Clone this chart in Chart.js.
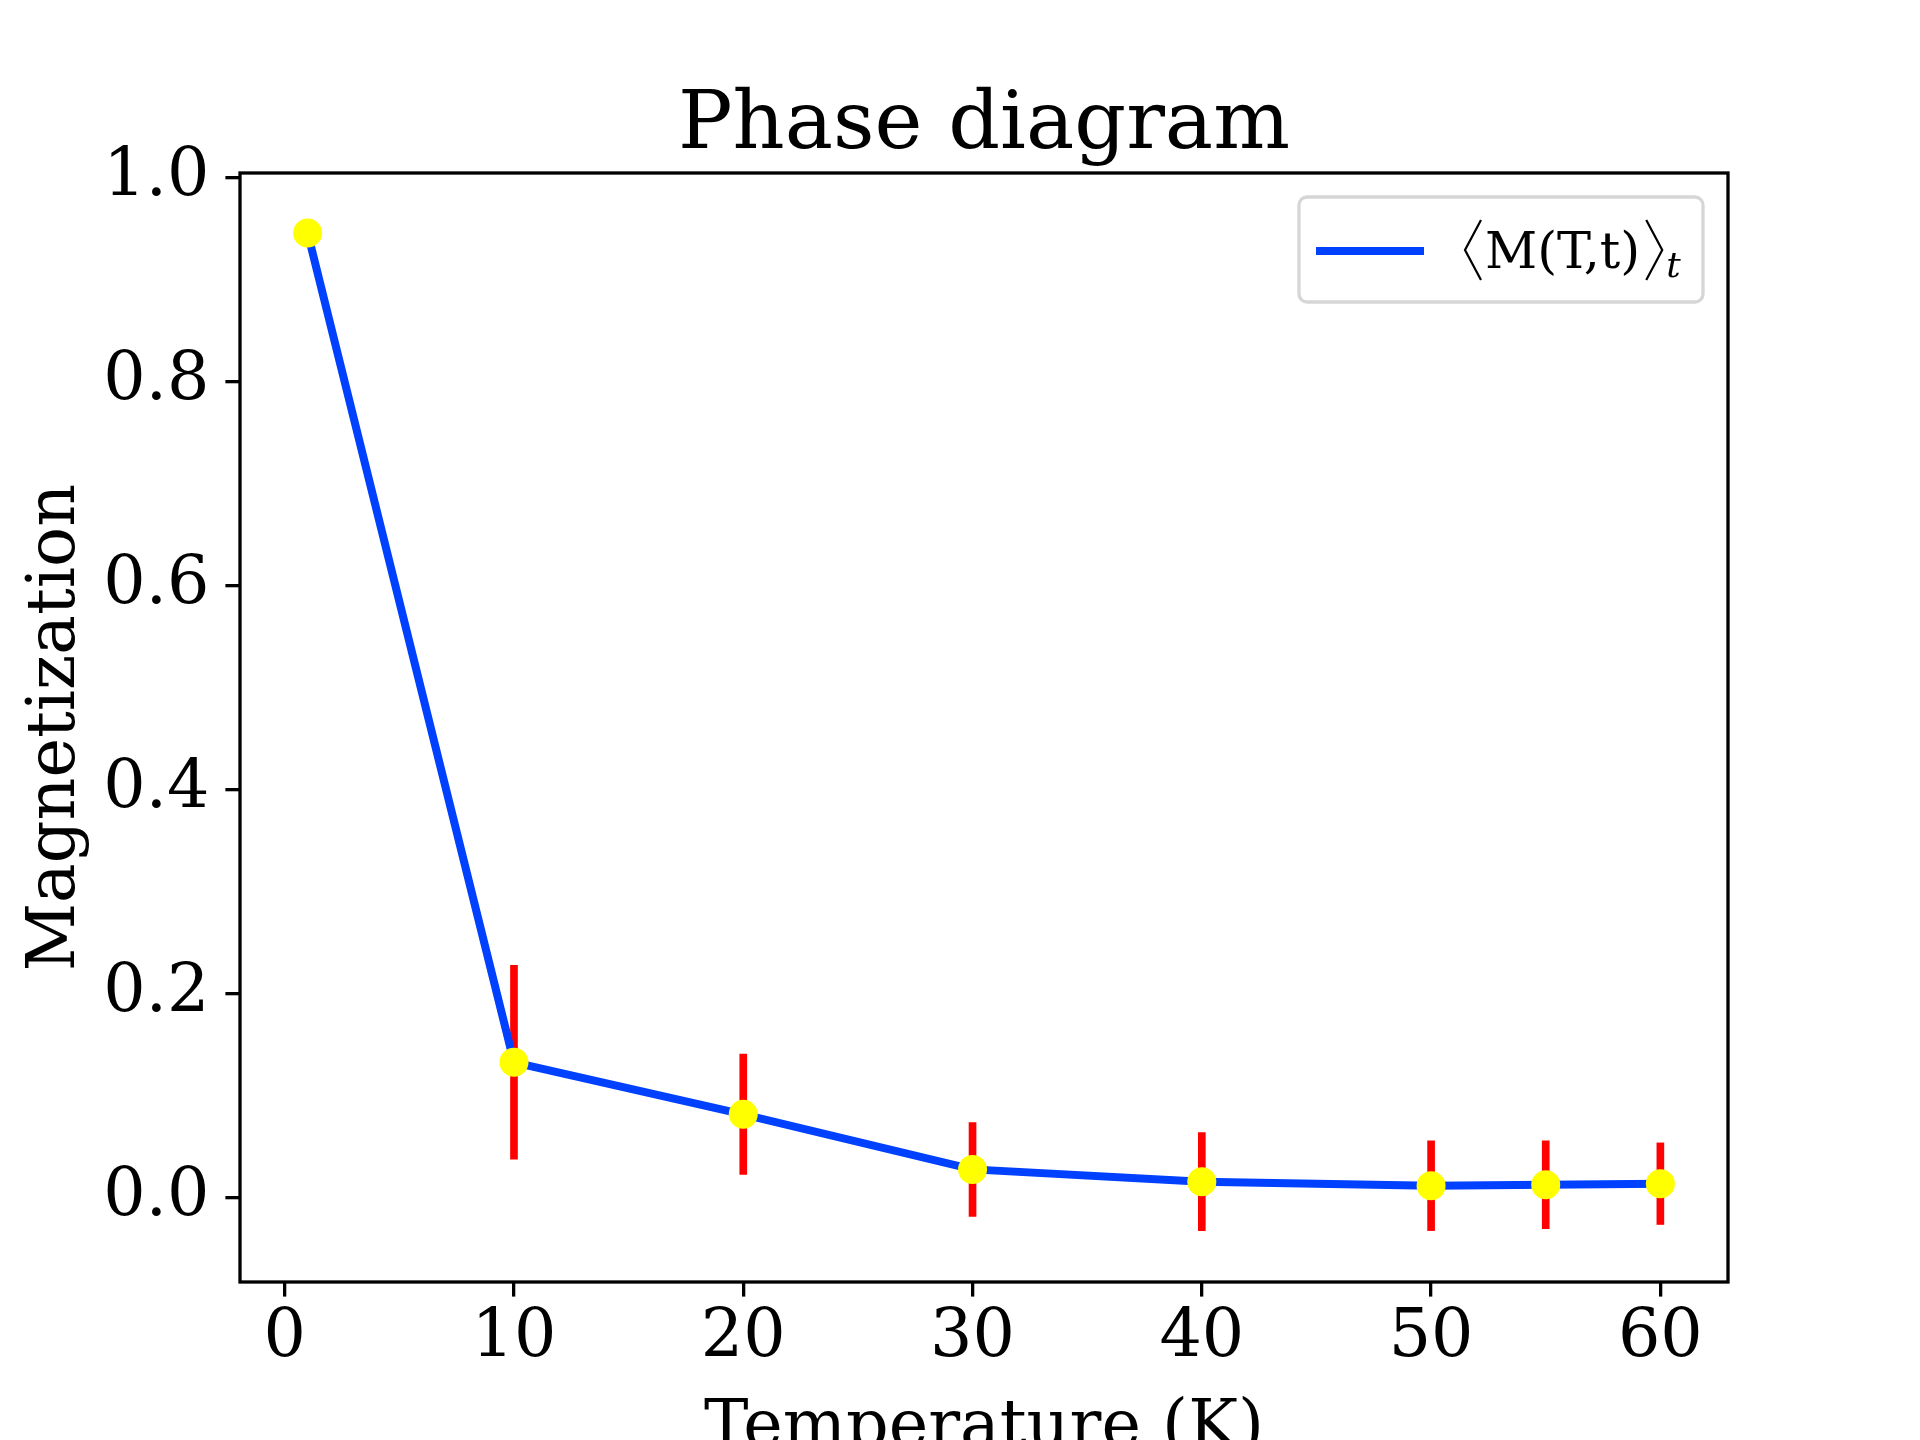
<!DOCTYPE html>
<html>
<head>
<meta charset="utf-8">
<title>Phase diagram</title>
<script src="https://cdn.jsdelivr.net/npm/chart.js@4.4.1/dist/chart.umd.min.js"></script>
<style>
  html, body { margin: 0; padding: 0; background: #fff; }
  #wrap { width: 1920px; height: 1440px; }
</style>
</head>
<body>
<div id="wrap"><canvas id="phaseChart" width="1920" height="1440"></canvas></div>
<script>
// Temperature (K) and mean magnetization
const temps  = [1, 10, 20, 30, 40, 50, 55, 60];
const magnet = [0.946, 0.133, 0.082, 0.028, 0.016, 0.012, 0.013, 0.014];
const errs   = [0.009, 0.095, 0.059, 0.046, 0.048, 0.044, 0.043, 0.040];

const xTicks = [0, 10, 20, 30, 40, 50, 60];
const yTicks = [0.0, 0.2, 0.4, 0.6, 0.8, 1.0];

const titleText = 'Phase diagram';
const xTitle = 'Temperature (K)';
const yTitle = 'Magnetization';

const SERIF = '"DejaVu Serif", "DejaVu Sans", serif';
const BLUE = '#0040ff';

Chart.defaults.font.family = SERIF;
Chart.defaults.color = '#000';

// title + frame + legend drawn by hand (matplotlib look)
const decorPlugin = {
    id: 'decor',
    afterDraw(chart) {
        const ctx = chart.ctx;
        const a = chart.chartArea;
        ctx.save();

        // spines
        ctx.strokeStyle = '#000';
        ctx.lineWidth = 3.3;
        ctx.strokeRect(a.left, a.top, a.right - a.left, a.bottom - a.top);

        // title
        ctx.fillStyle = '#000';
        ctx.font = '81px ' + SERIF;
        ctx.textAlign = 'center';
        ctx.textBaseline = 'alphabetic';
        ctx.fillText(titleText, (a.left + a.right) / 2, a.top - 25);

        // legend box
        const bx = a.right - 429, by = a.top + 24, bw = 404, bh = 105;
        ctx.beginPath();
        ctx.roundRect(bx, by, bw, bh, 8);
        ctx.fillStyle = '#fff';
        ctx.fill();
        ctx.strokeStyle = '#d6d6d6';
        ctx.lineWidth = 3.3;
        ctx.stroke();

        // handle
        ctx.beginPath();
        ctx.moveTo(bx + 17, by + 54);
        ctx.lineTo(bx + 125, by + 54);
        ctx.strokeStyle = BLUE;
        ctx.lineWidth = 8;
        ctx.stroke();

        // label  <M(T,t)>_t
        const base = by + 71;
        const bTop = by + 23, bBot = by + 83, bMid = (bTop + bBot) / 2;
        ctx.strokeStyle = '#000';
        ctx.lineWidth = 2.2;
        let tx = bx + 166;
        ctx.beginPath();                       // langle
        ctx.moveTo(tx + 16, bTop);
        ctx.lineTo(tx, bMid);
        ctx.lineTo(tx + 16, bBot);
        ctx.stroke();
        tx += 20;
        ctx.fillStyle = '#000';
        ctx.textAlign = 'left';
        ctx.textBaseline = 'alphabetic';
        ctx.font = '51px ' + SERIF;
        ctx.fillText('M(T,t)', tx, base);
        tx += ctx.measureText('M(T,t)').width + 6;
        ctx.beginPath();                       // rangle
        ctx.moveTo(tx, bTop);
        ctx.lineTo(tx + 16, bMid);
        ctx.lineTo(tx, bBot);
        ctx.stroke();
        tx += 20;
        ctx.font = 'italic 36px ' + SERIF;
        ctx.fillText('t', tx, base + 9);

        ctx.restore();
    }
};

const ctx = document.getElementById('phaseChart').getContext('2d');
new Chart(ctx, {
    type: 'line',
    data: {
        datasets: [
            {
                label: '\u27E8M(T,t)\u27E9t',
                data: temps.map((t, i) => ({ x: t, y: magnet[i] })),
                borderColor: BLUE,
                borderWidth: 8,
                tension: 0,
                fill: false,
                pointRadius: 14.5,
                pointBackgroundColor: '#ffff00',
                pointBorderColor: '#ffff00',
                pointBorderWidth: 0,
                order: 1
            },
            {
                // error bars
                type: 'bar',
                label: 'err',
                data: temps.map((t, i) => ({ x: t, y: [magnet[i] - errs[i], magnet[i] + errs[i]] })),
                backgroundColor: '#ff0000',
                borderWidth: 0,
                barThickness: 7,
                order: 2
            }
        ]
    },
    options: {
        responsive: false,
        devicePixelRatio: 1,
        animation: false,
        events: [],
        layout: { padding: { top: 173, right: 192, left: 0, bottom: 0 } },
        plugins: {
            legend: { display: false },
            title: { display: false },
            tooltip: { enabled: false }
        },
        scales: {
            x: {
                type: 'linear',
                min: -1.95,
                max: 62.95,
                offset: false,
                afterBuildTicks: (scale) => { scale.ticks = xTicks.map(v => ({ value: v })); },
                afterFit: (scale) => { scale.height = 158; },
                grid: {
                    display: true,
                    offset: false,
                    drawOnChartArea: false,
                    tickLength: 14.6,
                    lineWidth: 3.3,
                    color: '#000'
                },
                border: { display: false },
                ticks: {
                    autoSkip: false,
                    maxRotation: 0,
                    padding: 2,
                    font: { size: 66.7 },
                    color: '#000',
                    callback: (v) => String(v)
                },
                title: {
                    display: true,
                    text: xTitle,
                    font: { size: 66.7 },
                    color: '#000',
                    padding: { top: 0, bottom: -30 }
                }
            },
            y: {
                type: 'linear',
                min: -0.0824,
                max: 1.0049,
                afterBuildTicks: (scale) => { scale.ticks = yTicks.map(v => ({ value: v })); },
                afterFit: (scale) => { scale.width = 240; },
                grid: {
                    display: true,
                    offset: false,
                    drawOnChartArea: false,
                    tickLength: 14.6,
                    lineWidth: 3.3,
                    color: '#000'
                },
                border: { display: false },
                ticks: {
                    autoSkip: false,
                    padding: 16,
                    font: { size: 66.7 },
                    color: '#000',
                    callback: (v) => v.toFixed(1)
                },
                title: {
                    display: true,
                    text: yTitle,
                    font: { size: 66.7 },
                    color: '#000',
                    padding: { top: 17, bottom: 0 }
                }
            }
        }
    },
    plugins: [decorPlugin]
});
</script>
</body>
</html>
